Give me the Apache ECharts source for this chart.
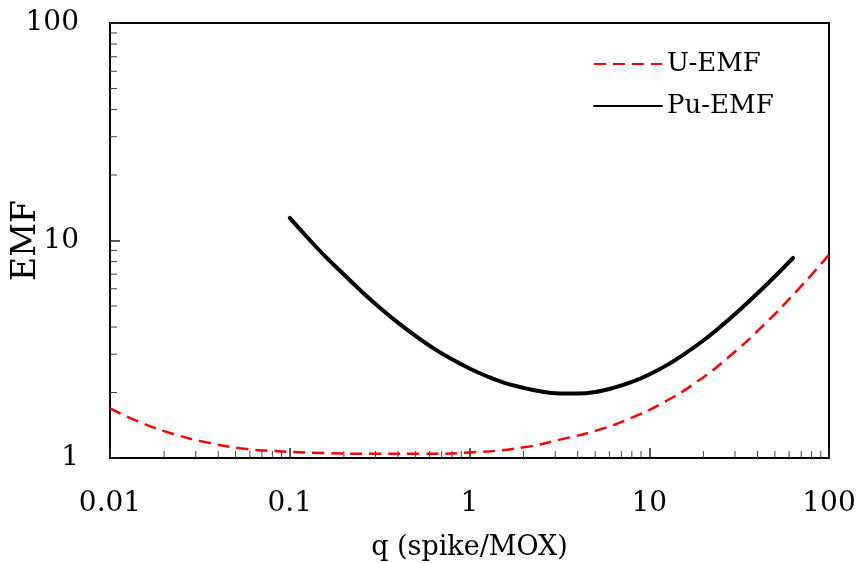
<!DOCTYPE html>
<html>
<head>
<meta charset="utf-8">
<script src="https://cdn.jsdelivr.net/npm/echarts@6/dist/echarts.min.js"></script>
<style>
html,body{margin:0;padding:0;background:#fff;}
#chart{width:861px;height:563px;}
</style>
</head>
<body>
<div id="chart"></div>
<script>
// ---- data ----
const seriesNames = ['U-EMF', 'Pu-EMF'];
const qU   = [0.01, 0.0147, 0.0225, 0.0345, 0.0528, 0.0811, 0.154, 0.3, 0.55, 1, 2, 3.19, 5.11, 7.83, 12.0, 18.4, 28.2, 43.2, 66.3, 100];
const emfU = [1.69, 1.46, 1.29, 1.18, 1.11, 1.077, 1.054, 1.045, 1.045, 1.06, 1.12, 1.215, 1.34, 1.52, 1.80, 2.24, 2.95, 4.08, 5.87, 8.6];
const qPu   = [0.1, 0.126, 0.158, 0.2, 0.251, 0.316, 0.398, 0.501, 0.631, 0.794, 1, 1.26, 1.58, 2, 2.51,
               3.16, 3.98, 5.01, 6.31, 7.94, 10, 12.6, 15.8, 20, 25.1, 31.6, 39.8, 50.1, 63.1];
const emfPu = [12.7, 10.28, 8.43, 6.98, 5.83, 4.92, 4.20, 3.64, 3.19, 2.85, 2.58, 2.37, 2.21, 2.10, 2.02,
               1.98, 1.977, 2.01, 2.10, 2.23, 2.42, 2.68, 3.02, 3.47, 4.04, 4.77, 5.69, 6.85, 8.31];
const xTickLabels = ['0.01', '0.1', '1', '10', '100'];
const yTickLabels = ['1', '10', '100'];
const xDecades = [0.01, 0.1, 1, 10];
const yDecades = [1, 10];
const mantissas = [2, 3, 4, 5, 6, 7, 8, 9];

const xMinor = [];
xDecades.forEach(d => mantissas.forEach(m => xMinor.push(+(d * m).toPrecision(3))));
const yMinor = [];
yDecades.forEach(d => mantissas.forEach(m => yMinor.push(+(d * m).toPrecision(3))));

const FONT = 'DejaVu Serif';
const chart = echarts.init(document.getElementById('chart'), null, {renderer: 'canvas'});

function fmt(v) {
  return String(+Number(v).toPrecision(6));
}

const option = {
  backgroundColor: '#ffffff',
  animation: false,
  grid: {
    left: 110, right: 32, top: 23, bottom: 105,
    outerBoundsMode: 'none', containLabel: false,
    show: true, borderColor: '#000', borderWidth: 2, backgroundColor: 'transparent'
  },
  legend: {
    data: seriesNames,
    orient: 'vertical',
    left: 588, top: 46,
    itemWidth: 68, itemHeight: 14, itemGap: 16,
    itemStyle: {opacity: 0},
    textStyle: {fontFamily: FONT, fontSize: 26, color: '#000'}
  },
  xAxis: {
    type: 'log', logBase: 10, min: 0.01, max: 100,
    name: 'q (spike/MOX)', nameLocation: 'middle', nameGap: 76, nameMoveOverlap: false,
    nameTextStyle: {fontFamily: FONT, fontSize: 27, color: '#000'},
    axisLine: {show: true, lineStyle: {color: '#000', width: 2}},
    axisTick: {show: true, inside: true, length: 10, lineStyle: {color: '#222', width: 1.5}},
    axisLabel: {
      fontFamily: FONT, fontSize: 28, color: '#000', margin: 32,
      formatter: v => { const s = fmt(v); return xTickLabels.indexOf(s) >= 0 ? s : ''; }
    },
    splitLine: {show: false}
  },
  yAxis: {
    type: 'log', logBase: 10, min: 1, max: 100,
    name: 'EMF', nameLocation: 'middle', nameGap: 67, nameMoveOverlap: false,
    nameTextStyle: {fontFamily: FONT, fontSize: 33, color: '#000'},
    axisLine: {show: true, lineStyle: {color: '#000', width: 2}},
    axisTick: {show: true, inside: true, length: 10, lineStyle: {color: '#222', width: 1.5}},
    axisLabel: {
      fontFamily: FONT, fontSize: 28, color: '#000', margin: 31,
      formatter: v => { const s = fmt(v); return yTickLabels.indexOf(s) >= 0 ? s : ''; }
    },
    splitLine: {show: false}
  },
  series: [
    {
      name: seriesNames[0], type: 'line', symbol: 'none', smooth: 0.5,
      data: qU.map((q, i) => [q, emfU[i]]),
      lineStyle: {color: '#ff0000', width: 2.5, type: [12, 7]},
      itemStyle: {color: '#ff0000'},
      z: 3
    },
    {
      name: seriesNames[1], type: 'line', symbol: 'none', smooth: 0.4,
      data: qPu.map((q, i) => [q, emfPu[i]]),
      lineStyle: {color: '#000000', width: 4, cap: 'round', join: 'round'},
      itemStyle: {color: '#000000'},
      z: 4
    },
    {
      type: 'custom', silent: true, coordinateSystem: 'cartesian2d',
      data: xMinor.map(v => [v, 1]),
      encode: {x: 0, y: 1},
      renderItem: (params, api) => {
        const p = api.coord([api.value(0), 1]);
        return {type: 'line', shape: {x1: p[0], y1: p[1], x2: p[0], y2: p[1] - 7},
                style: {stroke: '#444', lineWidth: 1}};
      },
      z: 2
    },
    {
      type: 'custom', silent: true, coordinateSystem: 'cartesian2d',
      data: yMinor.map(v => [0.01, v]),
      encode: {x: 0, y: 1},
      renderItem: (params, api) => {
        const p = api.coord([0.01, api.value(1)]);
        return {type: 'line', shape: {x1: p[0], y1: p[1], x2: p[0] + 7, y2: p[1]},
                style: {stroke: '#444', lineWidth: 1}};
      },
      z: 2
    }
  ]
};
chart.setOption(option);
</script>
</body>
</html>
